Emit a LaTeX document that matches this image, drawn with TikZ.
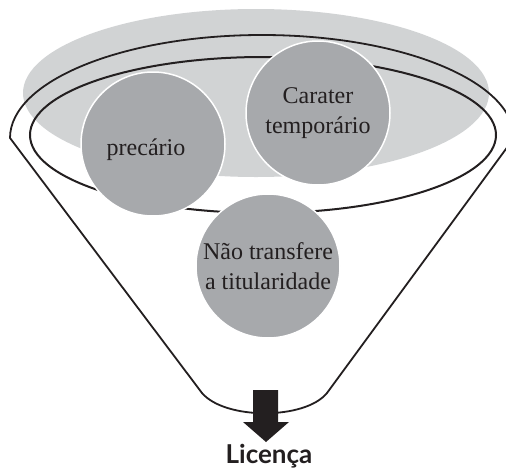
\documentclass[tikz,border=0pt]{standalone}
\usepackage{fontspec}
\newfontfamily\bubblefont{Liberation Serif}
\newfontfamily\labelfont{Lato}
\usetikzlibrary{calc}

\definecolor{ringgray}{HTML}{D1D3D4}
\definecolor{bubblegray}{HTML}{A7A9AC}
\definecolor{inkblack}{HTML}{231F20}

\begin{document}
\begin{tikzpicture}[x=1pt, y=-1pt,
    bubble/.style={circle, fill=bubblegray, draw=white, line width=1.5pt,
      minimum size=144pt, inner sep=0pt, align=center, text=inkblack,
      font=\bubblefont\fontsize{24}{30}\selectfont},
    bubtext/.style={inner sep=0pt, text=inkblack,
      font=\bubblefont\fontsize{24}{30}\selectfont}]
    \useasboundingbox (0,0) rectangle (506,469);
    \coordinate (G) at (256,93);
    \coordinate (E) at (263,135);
    \coordinate (L) at (10,138);
    \coordinate (BL) at (202,393);
    \coordinate (BR) at (327,393);
    \coordinate (tip) at (266,442);
    \fill[ringgray] (G) ellipse [x radius=233, y radius=84];
    \draw[line width=2pt, inkblack] (E) ellipse [x radius=233, y radius=78];
    \draw[line width=1.8pt, inkblack, line join=round] (L)
        arc [start angle=180, end angle=360, x radius=252, y radius=103]
        -- (BR) .. controls (305,420) and (225,420) .. (BL) -- cycle;
    \node[bubble] (prec) at (153,144) {};
    \node[bubtext] (precText) at ($(prec)+(-7,6)$) {precário};
    \node[bubble] (temp) at (318,113) {Carater\\temporário};
    \node[bubble] (tit) at (268,266) {Não transfere\\a titularidade};
    \fill[inkblack] ($(tip)+(-13,-52)$) -- ($(tip)+(12,-52)$) -- ($(tip)+(12,-20)$)
        -- ($(tip)+(23,-20)$) -- (tip) -- ($(tip)+(-23,-20)$) -- ($(tip)+(-13,-20)$) -- cycle;
    \node[font=\labelfont\bfseries\fontsize{26}{30}\selectfont, text=inkblack,
        anchor=base] (lic) at (269,463) {Licença};
\end{tikzpicture}
\end{document}
